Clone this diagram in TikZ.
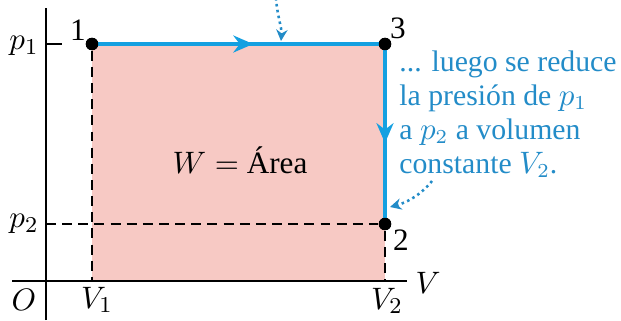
\documentclass[tikz,border=0pt]{standalone}
\usepackage{fontspec}
\setmainfont{Liberation Serif}
\usetikzlibrary{arrows.meta, decorations.markings}
\definecolor{procblue}{RGB}{20,160,225}
\definecolor{txtblue}{RGB}{35,140,200}
\definecolor{areapink}{RGB}{247,201,196}

\begin{document}
\begin{tikzpicture}[x=0.0124cm, y=-0.0124cm,
    every node/.style={font=\fontsize{11}{12}\selectfont},
    dot/.style = {circle, fill=black, inner sep=0pt, minimum size=4.4pt},
    axis/.style = {line width=0.7pt},
    guide/.style = {line width=0.6pt, dash pattern=on 3.5pt off 2.2pt},
    proc/.style = {procblue, line width=1.4pt, postaction={decorate},
                   decoration={markings,
                   mark=at position 0.55 with {\arrow{Stealth[length=7pt,width=6pt]}}}},
    note/.style = {txtblue, line width=0.9pt, dash pattern=on 0.9pt off 1.2pt,
                   -{Stealth[length=4pt,width=4pt]}}
]
\useasboundingbox (0,0) rectangle (621,320);

% states
\coordinate (o) at (46,281);
\coordinate (v1) at (92,281);
\coordinate (v2) at (385,281);
\coordinate (pa) at (46,44);
\coordinate (pb) at (46,224);

% work area
\fill[areapink] (92,44) rectangle (v2);

% axes
\draw[axis] (46,320) -- (46,8);
\draw[axis] (12,281) -- (407,281);
\draw[axis] (pa) -- (62,44);

% process
\node (n1) [dot] at (92,44) {};
\node (n3) [dot] at (385,44) {};
\node (n2) [dot] at (385,224) {};
\draw[guide] (n1) -- (v1);
\draw[guide] (pb) -- (n2);
\draw[guide] (n2) -- (v2);
\draw[proc] (n1.center) -- (n3.center);
\draw[proc] (n3.center) -- (n2.center);
\foreach \p in {n1,n2,n3} \fill (\p) circle (2.2pt);

% labels
\node (lp1) at (24,46) {$p_1$};
\node (lp2) at (24,224) {$p_2$};
\node (lo) at (24,300) {$O$};
\node (lv1) at (97,300) {$V_1$};
\node (lv2) at (387,301) {$V_2$};
\node (lv) at (428,283) {$V$};
\node (l1) at (78,30) {1};
\node (l3) at (398,28) {3};
\node (l2) at (401,240) {2};
\node (area) at (240,160) {$W =$ Área};

\node (txt) [txtblue, anchor=north west, align=left, inner sep=1pt,
             font=\fontsize{10.5}{12}\selectfont] at (396,47)
  {... luego se reduce\\la presión de $p_1$\\a $p_2$ a volumen\\constante $V_2$.};

% notes
\coordinate (ntop) at (276,-2);
\coordinate (ttop) at (281,41);
\coordinate (nbot) at (432,181);
\coordinate (tbot) at (390,207);
\draw[note] (ntop) .. controls (277,15) and (282,28) .. (ttop);
\draw[note] (nbot) .. controls (420,196) and (405,203) .. (tbot);

\end{tikzpicture}
\end{document}
